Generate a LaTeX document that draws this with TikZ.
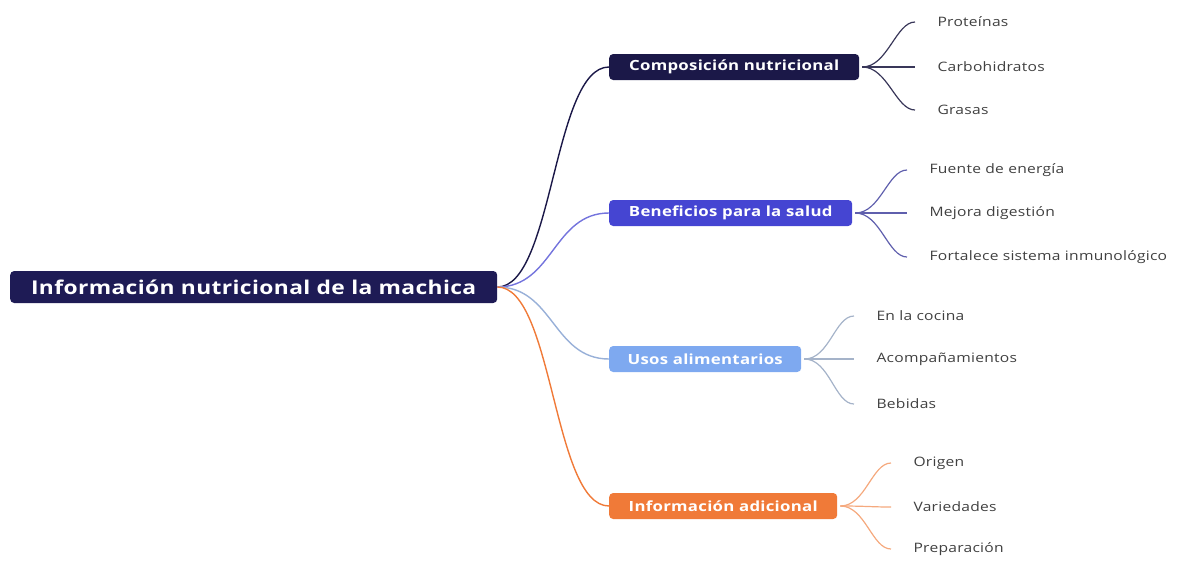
\documentclass[tikz,border=0pt]{standalone}
\usepackage{fontspec}
\setmainfont{Open Sans}[FakeStretch=1.2, LetterSpace=2]
\usepackage{tikz}

\definecolor{rootnavy}{HTML}{1E1B55}
\definecolor{compnavy}{HTML}{1B1848}
\definecolor{benblue}{HTML}{4545D2}
\definecolor{usosblue}{HTML}{7EA9F0}
\definecolor{infoorange}{HTML}{F07A38}

\begin{document}
\begin{tikzpicture}[x=1pt,y=-1pt,
    topic/.style={rounded corners=4pt, text=white, anchor=west, inner sep=0pt,
        minimum height=26pt, font=\fontsize{14}{16}\selectfont\bfseries},
    leaf/.style={anchor=west, text=black!75, font=\fontsize{13}{15}\selectfont},
    branch/.style={line width=1.4pt},
    twig/.style={line width=1.2pt, shorten <=3pt, shorten >=19pt}]
    \useasboundingbox (0,0) rectangle (1190,560);

    \node[topic, fill=rootnavy, minimum width=487pt, minimum height=32pt,
        font=\fontsize{19}{22}\selectfont\bfseries] (root) at (10,287) {Información nutricional de la machica};

    \node[topic, fill=compnavy, minimum width=250pt] (comp) at (609,67) {Composición nutricional};
    \node[topic, fill=benblue, minimum width=243pt] (ben) at (609,213) {Beneficios para la salud};
    \node[topic, fill=usosblue, minimum width=192pt] (usos) at (609,359) {Usos alimentarios};
    \node[topic, fill=infoorange, minimum width=228pt] (info) at (609,506) {Información adicional};

    \draw[branch, compnavy] (root.east) .. controls +(56,0) and +(-56,0) .. (comp.west);
    \draw[branch, benblue!75] (root.east) .. controls +(56,0) and +(-56,0) .. (ben.west);
    \draw[branch, usosblue!70!gray!80] (root.east) .. controls +(56,0) and +(-56,0) .. (usos.west);
    \draw[branch, infoorange] (root.east) .. controls +(56,0) and +(-56,0) .. (info.west);

    % composicion
    \node[leaf] (prot) at (934,22) {Proteínas};
    \node[leaf] (carb) at (934,67) {Carbohidratos};
    \node[leaf] (gras) at (934,110) {Grasas};
    % beneficios
    \node[leaf] (fuen) at (926,170) {Fuente de energía};
    \node[leaf] (dige) at (926,213) {Mejora digestión};
    \node[leaf] (inmu) at (926,257) {Fortalece sistema inmunológico};
    % usos
    \node[leaf] (coci) at (873,316) {En la cocina};
    \node[leaf] (acom) at (873,359) {Acompañamientos};
    \node[leaf] (bebi) at (873,404) {Bebidas};
    % adicional
    \node[leaf] (orig) at (910,463) {Origen};
    \node[leaf] (vari) at (910,507) {Variedades};
    \node[leaf] (prep) at (910,549) {Preparación};

    \foreach \leafname in {prot,carb,gras}
        \draw[twig, compnavy!70!gray] (comp.east) .. controls +(28,0) and +(-38,0) .. (\leafname.west);
    \foreach \leafname in {fuen,dige,inmu}
        \draw[twig, benblue!55!gray] (ben.east) .. controls +(28,0) and +(-38,0) .. (\leafname.west);
    \foreach \leafname in {coci,acom,bebi}
        \draw[twig, usosblue!45!gray!70] (usos.east) .. controls +(28,0) and +(-38,0) .. (\leafname.west);
    \foreach \leafname in {orig,vari,prep}
        \draw[twig, infoorange!65] (info.east) .. controls +(28,0) and +(-38,0) .. (\leafname.west);
\end{tikzpicture}
\end{document}
